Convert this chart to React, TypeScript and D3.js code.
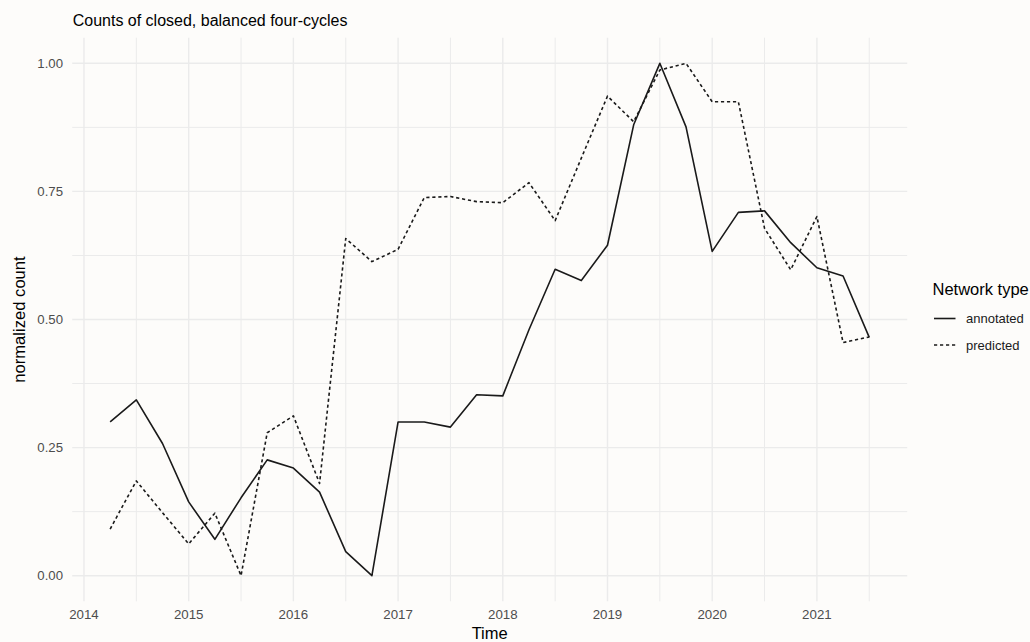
import React from "react";
import * as d3 from "d3";

// Quarterly time points (decimal years)
const quarters: number[] = [
  2014.25, 2014.5, 2014.75, 2015, 2015.25, 2015.5, 2015.75, 2016, 2016.25, 2016.5,
  2016.75, 2017, 2017.25, 2017.5, 2017.75, 2018, 2018.25, 2018.5, 2018.75, 2019,
  2019.25, 2019.5, 2019.75, 2020, 2020.25, 2020.5, 2020.75, 2021, 2021.25, 2021.5,
];

// Normalized counts for the annotated network
const annotated: number[] = [
  0.30, 0.343, 0.258, 0.144, 0.071, 0.152, 0.226, 0.21, 0.163, 0.047,
  0.0, 0.30, 0.30, 0.29, 0.353, 0.351, 0.48, 0.598, 0.576, 0.645,
  0.88, 1.0, 0.876, 0.633, 0.709, 0.712, 0.65, 0.601, 0.585, 0.465,
];

// Normalized counts for the predicted network
const predicted: number[] = [
  0.091, 0.185, 0.123, 0.062, 0.122, 0.0, 0.279, 0.312, 0.18, 0.658,
  0.613, 0.637, 0.738, 0.74, 0.73, 0.728, 0.767, 0.693, 0.815, 0.936,
  0.886, 0.987, 1.0, 0.925, 0.925, 0.678, 0.597, 0.701, 0.455, 0.466,
];

const xTicks: number[] = [2014, 2015, 2016, 2017, 2018, 2019, 2020, 2021];
const yTicks: number[] = [0, 0.25, 0.5, 0.75, 1.0];
const yMinor: number[] = [0.125, 0.375, 0.625, 0.875];
const xMinor: number[] = [2014.5, 2015.5, 2016.5, 2017.5, 2018.5, 2019.5, 2020.5, 2021.5];

const seriesNames = ["annotated", "predicted"];

const W = 1030;
const H = 642;
const panel = { left: 72.2, right: 907.2, top: 37.7, bottom: 601.3 };
const FONT = "'Liberation Sans', Arial, Helvetica, sans-serif";

export default function App() {
  const xPad = (quarters[quarters.length - 1] - quarters[0]) * 0.05;
  const x = d3
    .scaleLinear()
    .domain([quarters[0] - xPad, quarters[quarters.length - 1] + xPad])
    .range([panel.left, panel.right]);
  const y = d3.scaleLinear().domain([-0.05, 1.05]).range([panel.bottom, panel.top]);

  const line = d3
    .line<number>()
    .x((_, i) => x(quarters[i]))
    .y((d) => y(d));

  const grid = "#ebebeb";

  return (
    <svg
      width={W}
      height={H}
      style={{ position: "fixed", left: 0, top: 0, display: "block" }}
      fontFamily={FONT}
    >
      <rect x={0} y={0} width={W} height={H} fill="#fdfcfa" />

      {/* minor grid */}
      {yMinor.map((v) => (
        <line key={"ym" + v} x1={panel.left} x2={panel.right} y1={y(v)} y2={y(v)} stroke={grid} strokeWidth={1} />
      ))}
      {xMinor.map((v) => (
        <line key={"xm" + v} x1={x(v)} x2={x(v)} y1={panel.top} y2={panel.bottom} stroke={grid} strokeWidth={1} />
      ))}
      {/* major grid */}
      {yTicks.map((v) => (
        <line key={"yM" + v} x1={panel.left} x2={panel.right} y1={y(v)} y2={y(v)} stroke={grid} strokeWidth={1.4} />
      ))}
      {xTicks.map((v) => (
        <line key={"xM" + v} x1={x(v)} x2={x(v)} y1={panel.top} y2={panel.bottom} stroke={grid} strokeWidth={1.4} />
      ))}

      {/* series */}
      <path d={line(annotated) || ""} fill="none" stroke="#1a1a1a" strokeWidth={1.6} strokeLinejoin="round" />
      <path
        d={line(predicted) || ""}
        fill="none"
        stroke="#1a1a1a"
        strokeWidth={1.6}
        strokeDasharray="3.2,2.8"
        strokeLinejoin="round"
      />

      {/* y tick labels */}
      {yTicks.map((v) => (
        <text key={"yl" + v} x={63} y={y(v)} dy="0.36em" textAnchor="end" fontSize={13.2} fill="#4d4d4d">
          {d3.format(".2f")(v)}
        </text>
      ))}
      {/* x tick labels */}
      {xTicks.map((v) => (
        <text key={"xl" + v} x={x(v)} y={619.3} textAnchor="middle" fontSize={13.3} fill="#4d4d4d">
          {v}
        </text>
      ))}

      {/* axis titles */}
      <text x={(panel.left + panel.right) / 2} y={639} textAnchor="middle" fontSize={16.5} fill="#000">
        Time
      </text>
      <text
        transform={`translate(25,${(panel.top + panel.bottom) / 2}) rotate(-90)`}
        textAnchor="middle"
        fontSize={16.6}
        fill="#000"
      >
        normalized count
      </text>

      {/* title */}
      <text x={72.7} y={26} fontSize={16} fill="#000">
        Counts of closed, balanced four-cycles
      </text>

      {/* legend */}
      <text x={932.5} y={295} fontSize={16.5} fill="#000">
        Network type
      </text>
      {seriesNames.map((name, i) => {
        const ky = 318.5 + i * 26.5;
        return (
          <g key={name}>
            <line
              x1={934}
              x2={955.5}
              y1={ky}
              y2={ky}
              stroke="#1a1a1a"
              strokeWidth={1.6}
              strokeDasharray={i === 1 ? "3.2,2.8" : undefined}
            />
            <text x={966} y={ky} dy="0.36em" fontSize={13} fill="#1a1a1a">
              {name}
            </text>
          </g>
        );
      })}
    </svg>
  );
}
